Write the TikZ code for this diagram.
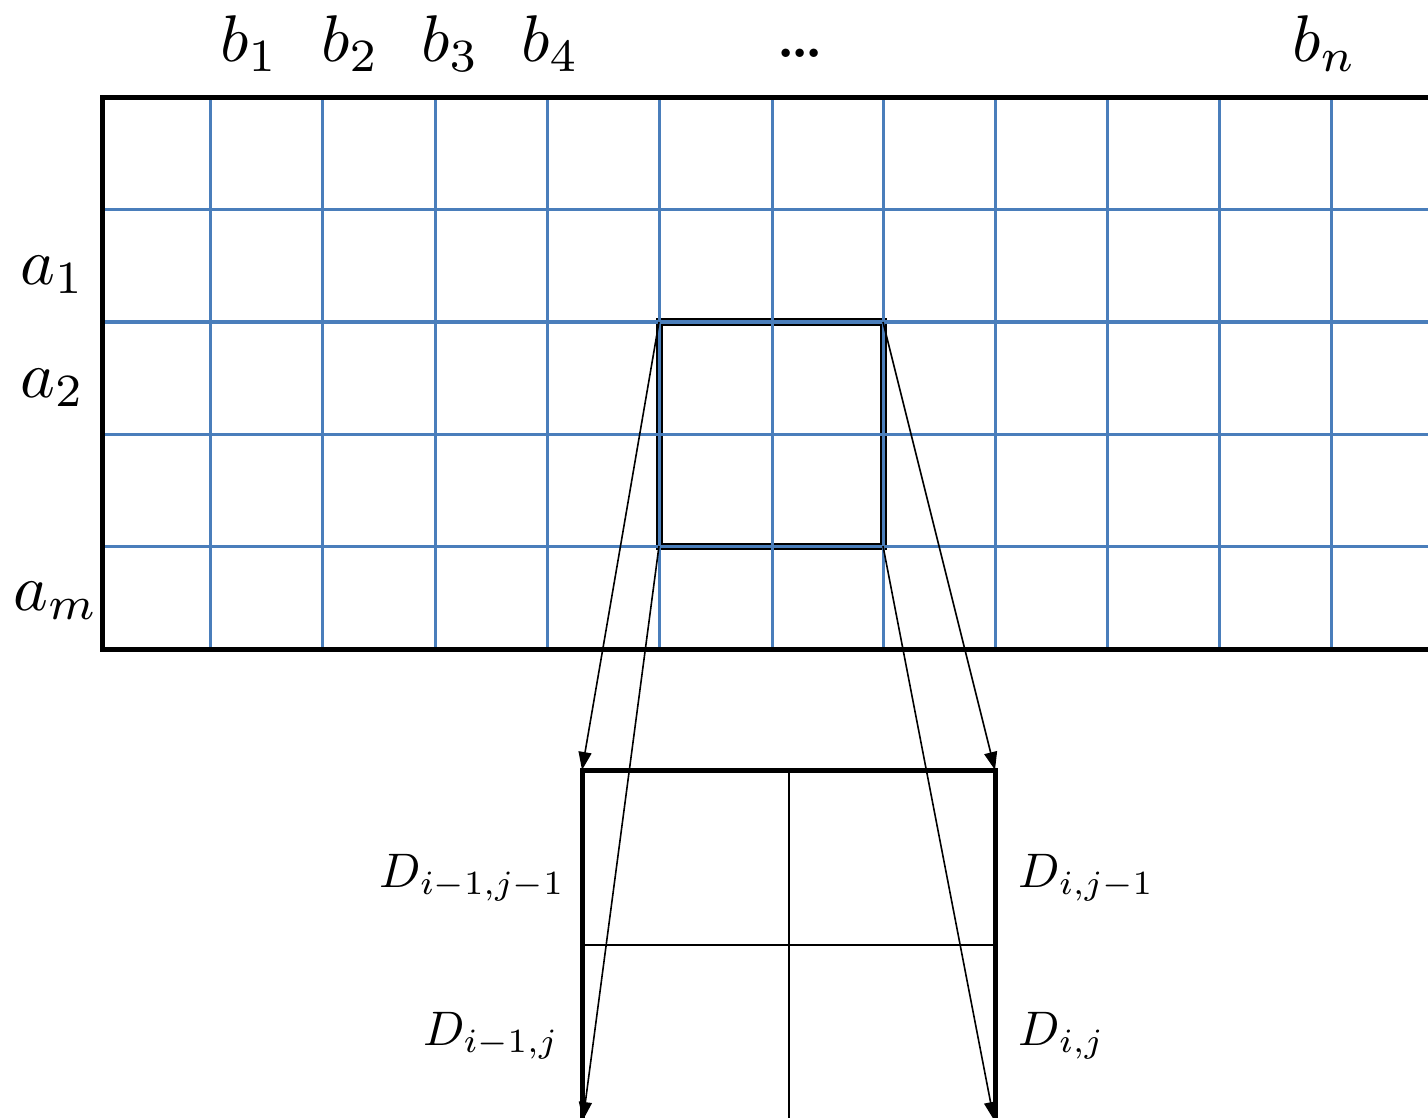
\documentclass[tikz,border=0pt]{standalone}
\usetikzlibrary{arrows.meta}
\definecolor{gridblue}{HTML}{4A7EBB}
\tikzset{
  gridline/.style={gridblue, line width=3pt},
  frame/.style={black, line width=5pt},
  thinbox/.style={black, line width=2.8pt},
  conn/.style={black, line width=1.6pt, -{Triangle[length=18pt,width=13pt]}},
  lbl/.style={inner sep=0pt, anchor=base west, scale=6.6, transform shape},
  dlbl/.style={inner sep=0pt, scale=4.85, transform shape},
}
\begin{document}
\begin{tikzpicture}[x=1pt,y=-1pt]
\useasboundingbox (0,0) rectangle (1428,1118);
\clip (0,0) rectangle (1428,1118);
% highlighted square (black, under blue grid)
\draw[black, line width=7pt] (659,322) rectangle (883,546);
% blue grid
\foreach \x in {210,322,435,547,659,772,883,995,1107,1219,1331}
  \draw[gridline] (\x,98) -- (\x,649);
\foreach \y in {210,322,434,546}
  \draw[gridline] (102,\y) -- (1440,\y);
% outer frame
\draw[frame] (1440,98) -- (102,98) -- (102,649) -- (1440,649);
% corner coordinates of the highlighted square
\coordinate (sqTL) at (659,322);
\coordinate (sqTR) at (883,322);
\coordinate (sqBL) at (659,546);
\coordinate (sqBR) at (883,546);
% lower box
\coordinate (bxTL) at (582,770);
\coordinate (bxTR) at (995,770);
\coordinate (bxBL) at (582,1130);
\coordinate (bxBR) at (995,1130);
\draw[thinbox] (582,945) -- (995,945);
\draw[thinbox] (789,770) -- (789,1130);
\draw[frame] (bxBL) -- (bxTL) -- (bxTR) -- (bxBR);
\coordinate (tipBL) at (583,1120);
\coordinate (tipBR) at (994,1120);
% connectors
\draw[conn] (sqTL) -- (bxTL);
\draw[conn] (sqTR) -- (bxTR);
\draw[conn] (sqBL) -- (tipBL);
\draw[conn] (sqBR) -- (tipBR);
% labels
\node[lbl] (b1) at (219,62) {$b_1$};
\node[lbl] (b2) at (320,62) {$b_2$};
\node[lbl] (b3) at (420,62) {$b_3$};
\node[lbl] (b4) at (520,62) {$b_4$};
\node[inner sep=0pt, anchor=base west, scale=5.4, transform shape, font=\bfseries] (dots) at (776,58) {\ldots};
\node[lbl] (bn) at (1291,62) {$b_n$};
\node[lbl] (a1) at (19,284) {$a_1$};
\node[lbl] (a2) at (19,397) {$a_2$};
\node[lbl] (am) at (12,610) {$a_m$};
\node[dlbl, anchor=base east] (d11) at (566,887) {$D_{i-1,j-1}$};
\node[dlbl, anchor=base east] (d10) at (560,1045) {$D_{i-1,j}$};
\node[dlbl, anchor=base west] (d01) at (1018,887) {$D_{i,j-1}$};
\node[dlbl, anchor=base west] (d00) at (1018,1045) {$D_{i,j}$};
\end{tikzpicture}
\end{document}
